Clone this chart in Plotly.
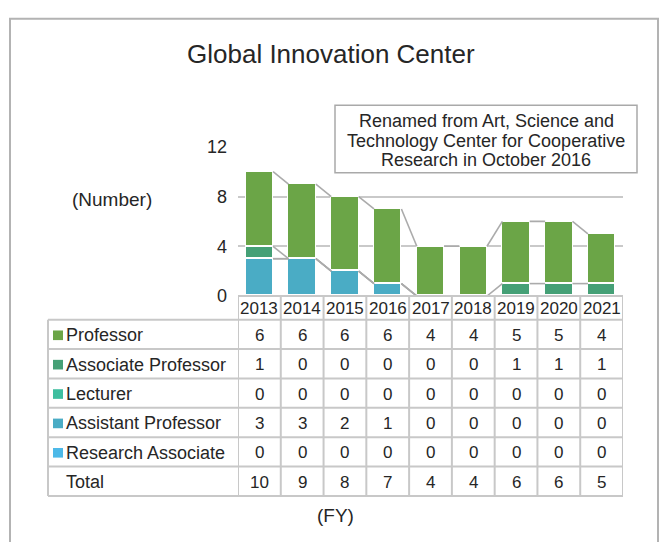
import plotly.graph_objects as go

# ---- data -------------------------------------------------------------
years = ["2013", "2014", "2015", "2016", "2017", "2018", "2019", "2020", "2021"]
professor = [6, 6, 6, 6, 4, 4, 5, 5, 4]
associate_professor = [1, 0, 0, 0, 0, 0, 1, 1, 1]
lecturer = [0, 0, 0, 0, 0, 0, 0, 0, 0]
assistant_professor = [3, 3, 2, 1, 0, 0, 0, 0, 0]
research_associate = [0, 0, 0, 0, 0, 0, 0, 0, 0]
y_ticks = [0, 4, 8, 12]

title_text = "Global Innovation Center"
note_lines = ["Renamed from Art, Science and",
              "Technology Center for Cooperative",
              "Research in October 2016"]

# stacking order: bottom to top
series = [
    ("Research Associate", research_associate, "#4DB9E8"),
    ("Assistant Professor", assistant_professor, "#4AACC5"),
    ("Lecturer", lecturer, "#3EBE9F"),
    ("Associate Professor", associate_professor, "#45A076"),
    ("Professor", professor, "#6BA547"),
]
# table row order: top to bottom
table_rows = ["Professor", "Associate Professor", "Lecturer",
              "Assistant Professor", "Research Associate"]

# ---- layout helpers (pixel -> paper) ----------------------------------
W, H = 660, 542
def px(x):
    return x / W
def py(y):
    return 1 - y / H

TEXT = "#262626"
GRID = "#C9C9C9"
FONT = "Liberation Sans, Arial, sans-serif"
BAR_W = 0.64

plot_left, plot_right = 238, 623
axis_y0, axis_y12 = 297, 142
header_bottom = 321.5
row_h = 30.5
table_left = 48

xs = list(range(len(years)))

fig = go.Figure()

# stacked bars
for name, vals, color in series:
    fig.add_trace(go.Bar(
        x=xs, y=vals, name=name, width=BAR_W,
        marker=dict(color=color, line=dict(color="white", width=1.5)),
        showlegend=False,
    ))

# series lines joining the top of each stack segment between adjacent bars
cum = [0] * len(years)
for name, vals, color in series:
    cum = [c + v for c, v in zip(cum, vals)]
    lx, ly = [], []
    for i in range(len(years) - 1):
        lx += [i + BAR_W / 2, i + 1 - BAR_W / 2, None]
        ly += [cum[i], cum[i + 1], None]
    fig.add_trace(go.Scatter(
        x=lx, y=ly, mode="lines",
        line=dict(color="#ABABAB", width=1.6),
        showlegend=False, hoverinfo="skip",
    ))

shapes = []
annotations = []

# outer frame
shapes.append(dict(type="rect", xref="paper", yref="paper",
                   x0=px(10), x1=px(658), y0=py(9), y1=py(560),
                   line=dict(color="#B3B3B3", width=2), layer="below"))

# ---- data table -------------------------------------------------------
TL = dict(color="#C8C8C8", width=2)
n_rows = len(table_rows) + 1
table_bottom = header_bottom + n_rows * row_h

# horizontal rules
shapes.append(dict(type="line", xref="paper", yref="paper",
                   x0=px(plot_left), x1=px(plot_right), y0=py(axis_y0), y1=py(axis_y0), line=TL))
for r in range(n_rows + 1):
    yy = header_bottom + r * row_h
    shapes.append(dict(type="line", xref="paper", yref="paper",
                       x0=px(table_left), x1=px(plot_right), y0=py(yy), y1=py(yy), line=TL))
# vertical rules
shapes.append(dict(type="line", xref="paper", yref="paper",
                   x0=px(table_left), x1=px(table_left),
                   y0=py(header_bottom), y1=py(table_bottom), line=TL))
for i in range(len(years) + 1):
    shapes.append(dict(type="line", xref="x", yref="paper",
                       x0=i - 0.5, x1=i - 0.5,
                       y0=py(axis_y0), y1=py(table_bottom), line=TL))

num_font = dict(family=FONT, size=17, color=TEXT)
label_font = dict(family=FONT, size=18, color=TEXT)

# header years
for i, yr in enumerate(years):
    annotations.append(dict(x=i, xref="x", y=py((axis_y0 + header_bottom) / 2 + 0.5), yref="paper",
                            text=yr, showarrow=False, font=num_font,
                            xanchor="center", yanchor="middle"))

values_by_name = {name: vals for name, vals, _ in series}
colors_by_name = {name: color for name, _, color in series}
totals = [sum(v[i] for _, v, _ in series) for i in range(len(years))]

row_labels = table_rows + ["Total"]
row_values = [values_by_name[n] for n in table_rows] + [totals]
for r, (label, vals) in enumerate(zip(row_labels, row_values)):
    yc = header_bottom + (r + 0.5) * row_h + 1
    if label in colors_by_name:
        shapes.append(dict(type="rect", xref="paper", yref="paper",
                           x0=px(53), x1=px(63), y0=py(yc - 5), y1=py(yc + 5),
                           fillcolor=colors_by_name[label], line=dict(width=0)))
    annotations.append(dict(x=px(64), xref="paper", y=py(yc), yref="paper",
                            text=label, showarrow=False, font=label_font,
                            xanchor="left", yanchor="middle"))
    for i, v in enumerate(vals):
        annotations.append(dict(x=i, xref="x", y=py(yc), yref="paper",
                                text=str(v), showarrow=False, font=num_font,
                                xanchor="center", yanchor="middle"))

# ---- titles and notes -------------------------------------------------
annotations.append(dict(x=px(331), xref="paper", y=py(46), yref="paper",
                        text=title_text, showarrow=False,
                        font=dict(family=FONT, size=26, color=TEXT),
                        xanchor="center", yanchor="middle"))
annotations.append(dict(x=px(112), xref="paper", y=py(197), yref="paper",
                        text="(Number)", showarrow=False,
                        font=dict(family=FONT, size=19, color=TEXT),
                        xanchor="center", yanchor="middle"))
annotations.append(dict(x=px(335), xref="paper", y=py(525), yref="paper",
                        text="(FY)", showarrow=False,
                        font=dict(family=FONT, size=19, color=TEXT),
                        xanchor="center", yanchor="middle"))

# note box with three centred lines
shapes.append(dict(type="rect", xref="paper", yref="paper",
                   x0=px(335), x1=px(637), y0=py(99), y1=py(169),
                   fillcolor="white", line=dict(color="#A9A9A9", width=1.5)))
for k, line in enumerate(note_lines):
    annotations.append(dict(x=px(486), xref="paper", y=py(115 + 20.5 * k), yref="paper",
                            text=line, showarrow=False,
                            font=dict(family=FONT, size=18, color=TEXT),
                            xanchor="center", yanchor="middle"))

fig.update_layout(
    width=W, height=H,
    margin=dict(l=0, r=0, t=0, b=0),
    paper_bgcolor="white", plot_bgcolor="white",
    barmode="stack", bargap=0,
    font=dict(family=FONT, color=TEXT),
    shapes=shapes, annotations=annotations,
    xaxis=dict(domain=[px(plot_left), px(plot_right)], range=[-0.5, len(years) - 0.5],
               showticklabels=False, showgrid=False, zeroline=False, showline=False,
               fixedrange=True),
    yaxis=dict(domain=[py(axis_y0), py(axis_y12)], range=[0, 12],
               tickvals=y_ticks, ticktext=[str(t) for t in y_ticks],
               tickfont=dict(family=FONT, size=18, color=TEXT),
               ticks="", ticklabelstandoff=10,
               showgrid=True, gridcolor=GRID, gridwidth=1.5,
               zeroline=False, showline=False, fixedrange=True),
)

fig.write_html("out.html")
